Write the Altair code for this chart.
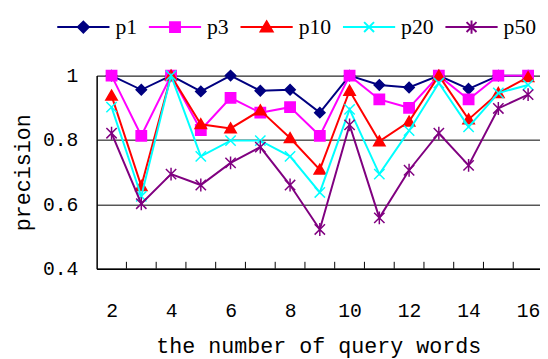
import altair as alt
import pandas as pd

# ---- data ----
words = list(range(2, 17))
series_names = ["p1", "p3", "p10", "p20", "p50"]
p1 = [1.0, 0.956, 1.0, 0.951, 1.0, 0.953, 0.956, 0.885, 1.0, 0.971, 0.963, 1.0, 0.959, 1.0, 1.0]
p3 = [1.0, 0.813, 1.0, 0.831, 0.931, 0.885, 0.902, 0.813, 1.0, 0.926, 0.900, 1.0, 0.926, 1.0, 1.0]
p10 = [0.938, 0.657, 1.0, 0.849, 0.836, 0.892, 0.806, 0.708, 0.953, 0.796, 0.857, 1.0, 0.864, 0.946, 0.995]
p20 = [0.902, 0.625, 1.0, 0.749, 0.798, 0.798, 0.749, 0.637, 0.895, 0.694, 0.829, 0.977, 0.841, 0.946, 0.971]
p50 = [0.821, 0.602, 0.694, 0.660, 0.729, 0.778, 0.660, 0.522, 0.847, 0.558, 0.706, 0.821, 0.721, 0.898, 0.941]
y_ticks = [0.4, 0.6, 0.8, 1.0]
x_label_values = [2, 4, 6, 8, 10, 12, 14, 16]

colors = ["#000080", "#FF00FF", "#FF0000", "#00FFFF", "#800080"]
marker_paths = [
    "M0,-1L1,0L0,1L-1,0Z",
    "M-1,-1L1,-1L1,1L-1,1Z",
    "M0,-1.05L1.1,0.85L-1.1,0.85Z",
    "M-1,-1L1,1M-1,1L1,-1",
    "M-1,-1L1,1M-1,1L1,-1M0,-1.25L0,1.25",
]
legend_paths = [
    "M-1,0L1,0M0,-0.21L0.21,0L0,0.21L-0.21,0Z",
    "M-1,0L1,0M-0.19,-0.19L0.19,-0.19L0.19,0.19L-0.19,0.19Z",
    "M-1,0L1,0M0,-0.22L0.23,0.17L-0.23,0.17Z",
    "M-1,0L1,0M-0.19,-0.19L0.19,0.19M-0.19,0.19L0.19,-0.19",
    "M-1,0L1,0M-0.19,-0.19L0.19,0.19M-0.19,0.19L0.19,-0.19M0,-0.25L0,0.25",
]

values = [p1, p3, p10, p20, p50]
rows = []
for name, vals in zip(series_names, values):
    for w, v in zip(words, vals):
        rows.append({"words": w, "precision": v, "series": name})
df = pd.DataFrame(rows)
bounds_df = pd.DataFrame({"b": [w + 0.5 for w in words[:-1]]})

FONT = "Liberation Mono"
SERIF = "Liberation Serif"
W, H = 450, 196

x_scale = alt.Scale(domain=[1.5, 16.4], nice=False, zero=False)
y_scale = alt.Scale(domain=[0.4, 1.0], nice=False, zero=False)

x_axis = alt.Axis(values=x_label_values, ticks=False, grid=False, domainColor="black",
                  domainWidth=1.5, labelFont=FONT, labelFontSize=20, labelColor="black",
                  labelPadding=32, title="the number of query words", titleFont=FONT,
                  titleFontSize=22, titleFontWeight="normal", titleColor="black",
                  titlePadding=16, labelFlush=False, labelOverlap=False)
y_axis = alt.Axis(values=y_ticks, ticks=False, grid=True, gridColor="black", gridWidth=1,
                  gridOpacity=1, domainColor="black", domainWidth=1.5, labelFont=FONT,
                  labelFontSize=20, labelColor="black", labelPadding=19,
                  labelExpr="datum.value == 1 ? '1' : format(datum.value, '.1f')",
                  title="precision", titleFont=FONT, titleFontSize=22,
                  titleFontWeight="normal", titleColor="black", titlePadding=8)

base = alt.Chart(df)

# axes carrier (invisible)
axes = base.mark_point(opacity=0).encode(
    x=alt.X("words:Q", scale=x_scale, axis=x_axis),
    y=alt.Y("precision:Q", scale=y_scale, axis=y_axis),
)

ticks = alt.Chart(bounds_df).mark_rule(color="black", strokeWidth=1).encode(
    x=alt.X("b:Q", scale=x_scale),
    y=alt.value(H),
    y2=alt.value(H - 7),
)

layers = [axes, ticks]
for name, col, path in zip(series_names, colors, marker_paths):
    sub = base.transform_filter(alt.datum.series == name)
    layers.append(sub.mark_line(color=col, strokeWidth=2).encode(
        x=alt.X("words:Q", scale=x_scale), y=alt.Y("precision:Q", scale=y_scale)))
    layers.append(sub.mark_point(shape=path, filled=True, fill=col, stroke=col,
                                 strokeWidth=1.5, size=110, opacity=1).encode(
        x=alt.X("words:Q", scale=x_scale), y=alt.Y("precision:Q", scale=y_scale)))

legend = alt.Legend(orient="none", direction="horizontal", legendX=-41, legendY=-77,
                    title=None, labelFont=SERIF, labelFontSize=22, labelColor="black",
                    symbolSize=2809, symbolStrokeWidth=2, labelOffset=5,
                    columnPadding=8, padding=0, symbolOpacity=1)
leg_layer = base.transform_filter("false").mark_point(filled=True, strokeWidth=2).encode(
    fill=alt.Fill("series:N", scale=alt.Scale(domain=series_names, range=colors), legend=legend),
    stroke=alt.Stroke("series:N", scale=alt.Scale(domain=series_names, range=colors), legend=legend),
    shape=alt.Shape("series:N", scale=alt.Scale(domain=series_names, range=legend_paths), legend=legend),
)
layers.append(leg_layer)

chart = alt.layer(*layers).properties(
    width=W, height=H,
    autosize=alt.AutoSizeParams(type="none"),
    padding={"left": 90, "top": 66, "right": 0, "bottom": 89},
).configure_view(stroke=None).configure(background="white")

chart.save("out.html", embed_options={"renderer": "svg", "actions": False})
